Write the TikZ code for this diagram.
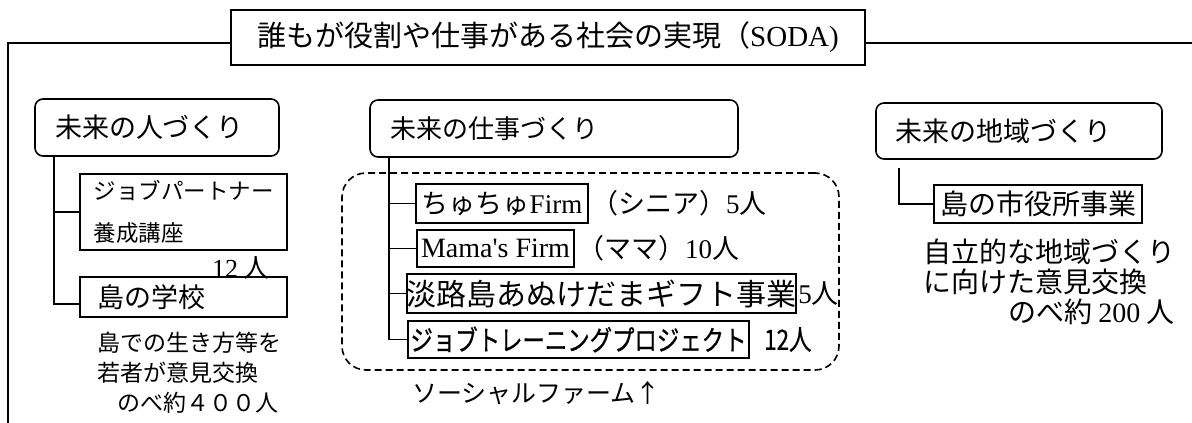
\documentclass[tikz,border=0pt]{standalone}
\usepackage{graphicx}
\usepackage{fontspec}
\setmainfont{Noto Sans CJK JP}
\newfontfamily\lat{Liberation Serif}
\newfontfamily\gothm{Noto Sans CJK JP}[FakeBold=0.8]
\newcommand\fsz[2]{\fontsize{#1}{#2}\selectfont}
\tikzset{
  mainbox/.style={draw, line width=1.6pt, rounded corners=8pt, inner xsep=20pt, inner ysep=0pt, align=left},
  itembox/.style={draw, line width=2pt, inner sep=0pt},
  lbl/.style={inner sep=0pt},
  frame/.style={line width=1.7pt},
  tree/.style={line width=1.6pt}
}
\begin{document}
\begin{tikzpicture}[x=1pt,y=-1pt]
\useasboundingbox (0,0) rectangle (1192,423);
% title and frame
\node[draw, line width=1.6pt, minimum width=634pt, minimum height=55pt, inner sep=0pt, font=\fsz{29}{34}] (title) at (548,37.5) {誰もが役割や仕事がある社会の実現（{\lat SODA)}};
\coordinate (tl) at (8,43);
\coordinate (bl) at (8,423);
\coordinate (tr) at (1192,43);
\draw[frame] (bl) -- (tl) -- (title.west |- tl);
\draw[frame] (title.east |- tl) -- (tr);
% left column
\node[mainbox, text width=204pt, minimum height=57pt, font=\fsz{27}{32}] (p1) at (157,127.5) {未来の人づくり};
\node[itembox, line width=1.7pt, inner xsep=13.5pt, text width=180pt, minimum height=76pt, align=left, font=\fsz{22.5}{42}] (jp) at (183.5,212) {ジョブパートナー\\養成講座};
\node[lbl, font=\fsz{26}{30}] (n12) at (241,268) {{\lat 12} 人};
\node[itembox, line width=1.7pt, inner xsep=17pt, text width=173pt, minimum height=40pt, align=left, font=\fsz{27}{32}] (isb) at (183.5,297) {島の学校};
\node[lbl, anchor=west, align=left, font=\fsz{23}{30}] (d1) at (97,373) {島での生き方等を\\若者が意見交換\\\hspace*{20pt}のべ約４００人};
\coordinate (t1) at ([xshift=20pt]p1.south west);
\draw[tree] (t1) |- ([yshift=-7pt]isb.west);
\draw[tree] (t1 |- jp.west) -- (jp.west);
% middle column
\node[mainbox, text width=328pt, minimum height=57pt, font=\fsz{26}{31}] (p2) at (554,128.5) {未来の仕事づくり};
\node[draw, dash pattern=on 7pt off 4pt, line width=1.6pt, rounded corners=24pt, minimum width=497pt, minimum height=197pt] (sf) at (590.5,271.5) {};
\node[itembox, minimum width=172pt, minimum height=39pt, font=\fsz{27}{32}] (cc) at (502,203.5) {ちゅちゅ{\lat Firm}};
\node[lbl, anchor=west, font=\fsz{27}{32}] (cct) at ([xshift=2pt]cc.east) {（シニア）{\lat 5}人};
\node[itembox, minimum width=157pt, minimum height=37pt, font=\fsz{28}{32}] (mm) at (495.5,248.5) {{\lat Mama's Firm}};
\node[lbl, anchor=west, font=\fsz{27}{32}] (mmt) at ([xshift=2pt]mm.east) {（ママ）{\lat 10}人};
\node[itembox, minimum width=371pt, minimum height=39pt, font=\fsz{30}{34}] (aw) at (601.5,293.5) {淡路島あぬけだまギフト事業};
\node[lbl, anchor=west, font=\fsz{27}{32}] (awt) at ([xshift=1pt]aw.east) {{\lat 5}人};
\node[itembox, minimum width=341pt, minimum height=37pt, font=\fsz{28}{32}\gothm] (jt) at (578.5,339.5) {\scalebox{0.8}[1]{ジョブトレーニングプロジェクト}};
\node[lbl, anchor=west, font=\fsz{28}{32}\gothm] (jtt) at ([xshift=14pt]jt.east) {\scalebox{0.8}[1]{12人}};
\node[lbl, anchor=west, font=\fsz{25}{30}] (sfl) at (412,393) {ソーシャルファーム↑};
\coordinate (t2) at ([xshift=20pt]p2.south west);
\draw[tree] (t2) |- (jt.west);
\foreach \b in {cc,mm,aw} \draw[tree] (t2 |- \b.west) -- (\b.west);
% right column
\node[mainbox, inner xsep=19pt, text width=248pt, minimum height=56pt, font=\fsz{27}{32}] (p3) at (1019,131) {未来の地域づくり};
\node[itembox, minimum width=208pt, minimum height=38pt, font=\fsz{28}{32}] (sy) at (1038,204) {島の市役所事業};
\coordinate (t3) at ([xshift=24pt,yshift=-8pt]p3.south west);
\draw[tree] (t3) |- (sy.west);
\node[lbl, anchor=west, align=left, font=\fsz{28}{30}] (d3) at (923,282) {自立的な地域づくり\\に向けた意見交換\\\hspace*{85pt}のべ約 {\lat 200} 人};
\end{tikzpicture}
\end{document}
